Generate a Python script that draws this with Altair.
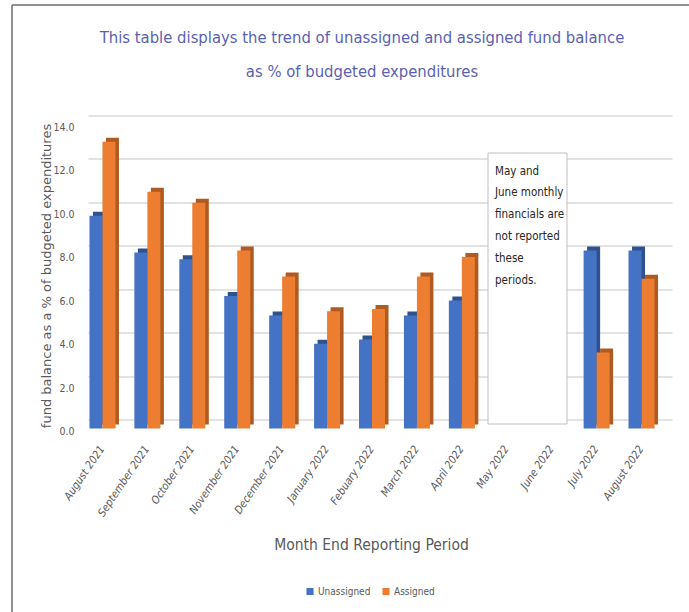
import altair as alt
import pandas as pd

months = ["August 2021", "September 2021", "October 2021", "November 2021",
          "December 2021", "January 2022", "Febuary 2022", "March 2022",
          "April 2022", "May 2022", "June 2022", "July 2022", "August 2022"]
unassigned = [9.8, 8.1, 7.8, 6.1, 5.2, 3.9, 4.1, 5.2, 5.9, 0.0, 0.0, 8.2, 8.2]
assigned = [13.2, 10.9, 10.4, 8.2, 7.0, 5.4, 5.5, 7.0, 7.9, 0.0, 0.0, 3.5, 6.9]
series_names = ["Unassigned", "Assigned"]
series_colors = ["#4472C4", "#ED7D31"]
side_colors = ["#2F528F", "#AE5A21"]
y_ticks = [0, 2, 4, 6, 8, 10, 12, 14]
title_lines = ["This table displays the trend of unassigned and assigned fund balance",
               "as % of budgeted expenditures"]
note_lines = ["May and", "June monthly", "financials are", "not reported", "these", "periods."]

rows = []
for m, u, a in zip(months, unassigned, assigned):
    rows.append({"month": m, "series": "Unassigned", "value": u})
    rows.append({"month": m, "series": "Assigned", "value": a})
df = pd.DataFrame(rows)

NARROW = "DejaVu Sans Condensed, Liberation Sans Narrow, Roboto"
GRAY = "#595959"
W, H = 584, 304

x_enc = alt.X("month:N", sort=months,
              scale=alt.Scale(domain=months, paddingInner=0, paddingOuter=0),
              axis=alt.Axis(title="Month End Reporting Period", labelAngle=-56,
                            labelOffset=-8, labelPadding=27, labelFontStyle="italic",
                            labelFont=NARROW, labelFontSize=11, labelColor=GRAY,
                            labelOverlap=False, labelLimit=300, domain=False, ticks=False,
                            grid=False, titleFont=NARROW, titleFontSize=15.5,
                            titleFontWeight="normal", titleColor=GRAY,
                            titleX=283, titleY=125, titleBaseline="middle"))
y_enc = alt.Y("value:Q", scale=alt.Scale(domain=[0, 14], nice=False),
              axis=alt.Axis(title="fund balance as a % of budgeted expenditures",
                            values=y_ticks, format=".1f", labelOffset=12,
                            labelPadding=14, labelFont=NARROW, labelFontSize=10.5,
                            labelColor=GRAY, domain=False, ticks=False, grid=True,
                            gridColor="#D9D9D9", gridWidth=1.5, titleFont="DejaVu Sans",
                            titleFontSize=13, titleFontWeight="normal",
                            titleColor=GRAY, titleX=-42, titleY=160,
                            titleBaseline="middle", titleAngle=270))
color_enc = alt.Color("series:N",
                      scale=alt.Scale(domain=series_names, range=series_colors),
                      legend=alt.Legend(title=None, orient="none", direction="horizontal",
                                        legendX=217, legendY=471, symbolType="square",
                                        symbolSize=50, symbolStrokeWidth=0,
                                        labelFont=NARROW, labelFontSize=10,
                                        labelColor=GRAY, columnPadding=10,
                                        labelOffset=3, symbolOffset=0))

base = alt.Chart(df)
bw = 13
layers = []
for name, col, side, xo in [("Unassigned", series_colors[0], side_colors[0], -14.5),
                            ("Assigned", series_colors[1], side_colors[1], -1.5)]:
    sub = base.transform_filter(alt.datum.series == name)
    layers.append(sub.mark_bar(width=bw, color=side, xOffset=xo + 3.5, yOffset=5.0)
                  .encode(x=x_enc, y=y_enc))
    layers.append(sub.mark_bar(width=bw, xOffset=xo, yOffset=9)
                  .encode(x=x_enc, y=y_enc, color=color_enc))

one = pd.DataFrame({"k": [0]})
box = alt.Chart(one).mark_rect(fill="white", stroke="#BFBFBF", strokeWidth=1).encode(
    x=alt.value(400), x2=alt.value(479), y=alt.value(37.5), y2=alt.value(308.5))
note_df = pd.DataFrame({"line": note_lines, "i": list(range(len(note_lines)))})
note = alt.Chart(note_df).mark_text(
    align="left", baseline="middle", font=NARROW, fontSize=11.5, color="#262626").encode(
    x=alt.value(407), y=alt.YValue(alt.ExprRef("56 + datum.i * 21.9")),
    text="line:N")

title_df = pd.DataFrame({"line": title_lines, "i": [0, 1]})
title = alt.Chart(title_df).mark_text(
    align="center", baseline="middle", font=NARROW, fontSize=16.5,
    color="#5B5FB3").encode(
    x=alt.value(274), y=alt.YValue(alt.ExprRef("-77.5 + datum.i * 34")),
    text="line:N")

frame_l = alt.Chart(one).mark_rule(color="#6b6b6b", strokeWidth=1.5).encode(
    x=alt.value(-76), y=alt.value(-110.5), y2=alt.value(497))
frame_t = alt.Chart(one).mark_rule(color="#6b6b6b", strokeWidth=1.5).encode(
    x=alt.value(-76), x2=alt.value(602), y=alt.value(-110.5))

chart = alt.layer(*layers, box, note, title, frame_l, frame_t).properties(
    width=W, height=H,
    autosize=alt.AutoSizeParams(type="none"),
    padding={"left": 88, "top": 115.5, "right": 17, "bottom": 192.5},
).configure(background="white").configure_view(stroke=None)

chart.save("out.html", embed_options={"renderer": "svg", "actions": False})
